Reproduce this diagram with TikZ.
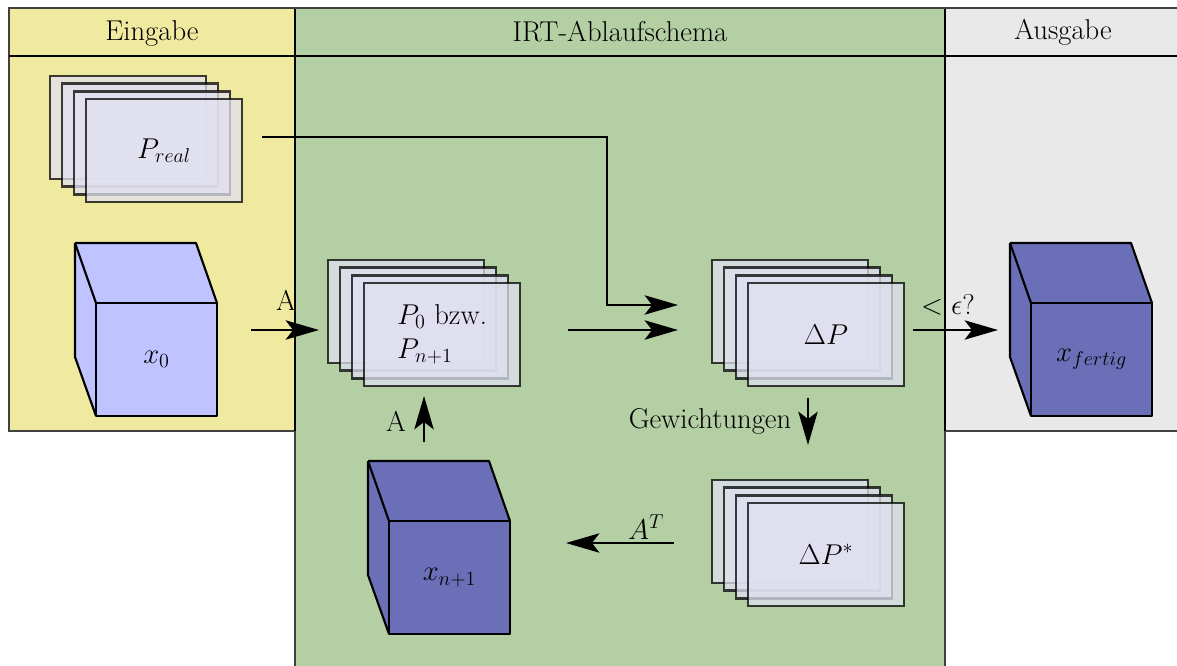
\RequirePackage{fix-cm}
\documentclass[tikz,border=0pt]{standalone}
\usetikzlibrary{arrows.meta}
\definecolor{yel}{HTML}{F0EAA0}
\definecolor{grn}{HTML}{B3CFA3}
\definecolor{gry}{HTML}{E9E9E9}
\definecolor{cubelight}{HTML}{BFC3FF}
\definecolor{cubedark}{HTML}{6A6FB8}
\definecolor{sheet}{HTML}{E0E0F0}
\tikzset{
  panel/.style={draw=black!75,line width=1.6pt},
  headline/.style={draw=black,line width=1.6pt},
  lab/.style={inner sep=0pt,outer sep=0pt,font=\fontsize{21.5}{25.5}\selectfont},
  sheetbox/.style={draw=black,fill=sheet,opacity=.75,text opacity=1,line width=1.9pt,
    minimum width=117pt,minimum height=77.25pt,inner sep=0pt,outer sep=0pt,
    font=\fontsize{21.5}{25.5}\selectfont,align=left},
  cubeface/.style={draw=black,line width=1.6pt,line join=round},
  frontface/.style={cubeface,minimum width=90.75pt,minimum height=84.75pt,inner sep=0pt,outer sep=0pt,
    font=\fontsize{21.5}{25.5}\selectfont},
  arr/.style={draw=black,line width=1.6pt,-{Stealth[length=25pt,width=14.5pt,inset=5.5pt]}},
}
\newcommand{\sheetstack}[4]{%
  \node[sheetbox,anchor=north west] (#1a) at (#2-36,#3-23) {};
  \node[sheetbox,anchor=north west] (#1b) at (#2-24,#3-15.4) {};
  \node[sheetbox,anchor=north west] (#1c) at (#2-12,#3-7.7) {};
  \node[sheetbox,anchor=north west] (#1) at (#2,#3) {#4};
}
\newcommand{\cubeshape}[5]{%
  \fill[#4] (#2-21,#3-60) -- (#2+100,#3-60) -- (#2+121,#3) -- (#2+121,#3+113) -- (#2,#3+113) -- (#2-21,#3+54) -- cycle;
  \draw[cubeface] (#2-21,#3-60) -- (#2+100,#3-60) -- (#2+121,#3);
  \draw[cubeface] (#2-21,#3-60) -- (#2,#3);
  \draw[cubeface] (#2-21,#3-60) -- (#2-21,#3+54) -- (#2,#3+113);
  \node[frontface,fill=#4,anchor=north west] (#1) at (#2,#3) {#5};
}
\begin{document}
\begin{tikzpicture}[x=.75pt,y=-.75pt]
\useasboundingbox (0,0) rectangle (1177,666);
\clip (0,0) rectangle (1177,666);
\fill[white] (0,0) rectangle (1177,666);
% panels
\draw[panel,fill=yel] (9,8) rectangle (295,431);
\draw[panel,fill=gry] (945,8) rectangle (1190,431);
\draw[panel,fill=grn] (295,8) rectangle (945,680);
\draw[headline] (9,56) -- (1177,56);
\draw[headline] (295,8) -- (295,431);
\draw[headline] (945,8) -- (945,431);
\draw[panel] (9,8) -- (1177,8);
\node[lab] (hin) at (152,33) {Eingabe};
\node[lab] (hmid) at (620,32) {IRT-Ablaufschema};
\node[lab] (hout) at (1063,32) {Ausgabe};
% sheets
\sheetstack{preal}{86}{99}{$P_{real}$}
\sheetstack{pn}{364}{283}{$P_0$ bzw.\\$P_{n+1}$}
\sheetstack{dp}{748}{283}{$\Delta P$}
\sheetstack{dps}{748}{503}{$\Delta P^{*}$}
% cubes
\cubeshape{xz}{96}{303}{cubelight}{$x_0$}
\cubeshape{xn}{389}{521}{cubedark}{$x_{n+1}$}
\cubeshape{xf}{1031}{303}{cubedark}{$x_{fertig}$}
% connectors
\draw[arr] ([shift={(34,-29.5)}]xz.east) -- ([shift={(-9,-4.5)}]pna.west |- pn.west);
\draw[arr] ([shift={(20,-13.5)}]preal.east) -| (607,305) -- ([shift={(-70,-29.5)}]dp.west);
\draw[arr] ([shift={(48,-4.5)}]pn.east) -- ([shift={(-70,-4.5)}]dp.west);
\draw[arr] ([shift={(9,-4.5)}]dp.east) -- ([shift={(-33,-29.5)}]xf.west);
\draw[arr] ([shift={(-18,12)}]dp.south) -- ([shift={(-18,-58)}]dps.north);
\draw[arr] ([shift={(-74,-11.5)}]dps.west) -- ([shift={(56,-34.5)}]xn.east);
\draw[arr] ([shift={(-25.5,-79)}]xn.north) -- ([shift={(-18,10)}]pn.south);
% labels
\node[lab] (la) at (286,300) {A};
\node[lab] (lb) at (396,421) {A};
\node[lab] (lc) at (948,305) {$<\epsilon$?};
\node[lab] (ld) at (710,421) {Gewichtungen};
\node[lab] (le) at (646,527) {$A^T$};
\end{tikzpicture}
\end{document}
